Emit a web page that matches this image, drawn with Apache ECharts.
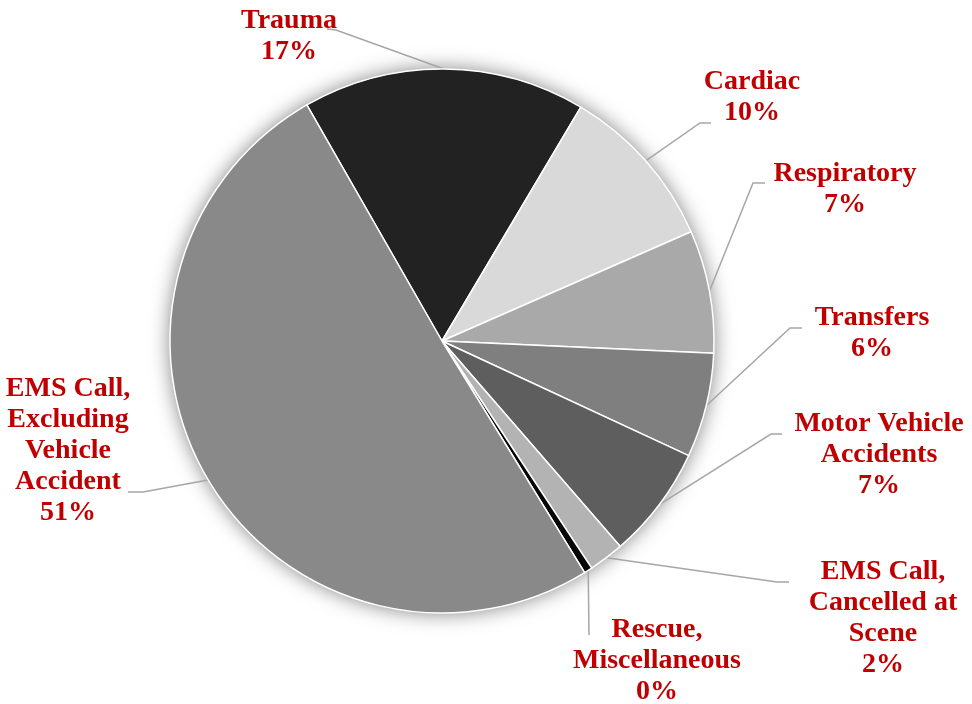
<!DOCTYPE html>
<html>
<head>
<meta charset="utf-8">
<script src="https://cdn.jsdelivr.net/npm/echarts@6/dist/echarts.min.js"></script>
<style>
html,body{margin:0;padding:0;background:#fff;}
#chart{width:972px;height:704px;}
</style>
</head>
<body>
<div id="chart"></div>
<script>
// Data
const categories = ['Trauma', 'Cardiac', 'Respiratory', 'Transfers', 'Motor Vehicle\nAccidents', 'EMS Call,\nCancelled at\nScene', 'Rescue,\nMiscellaneous', 'EMS Call,\nExcluding\nVehicle\nAccident'];
const values = [16.8, 9.9, 7.3, 6.2, 6.7, 2.1, 0.49, 50.51];
const sliceColors = ['#222222', '#d9d9d9', '#a9a9a9', '#7f7f7f', '#5e5e5e', '#b3b3b3', '#050505', '#898989'];

// Label layout (positions of label centers and leader-line bends)
const labelPos = [[289, 36], [752, 97], [845, 189], [872, 333], [879, 455], [883, 618], [657, 661], [68, 451]];
const leaderPts = [
  [[336, 30], [327, 29]],
  [[700, 123], [711, 123]],
  [[753, 183], [765, 183]],
  [[790, 328], [802, 328]],
  [[771, 434], [782, 434]],
  [[777, 582], [789, 582]],
  [[589, 635]],
  [[143, 492], [128, 492]]
];

const chart = echarts.init(document.getElementById('chart'), null, {renderer: 'canvas'});
const center = [442, 341];
const radius = 272;

chart.setOption({
  animation: false,
  backgroundColor: '#ffffff',
  series: [
    {
      type: 'pie',
      silent: true,
      center: center,
      radius: radius,
      label: {show: false},
      labelLine: {show: false},
      itemStyle: {color: '#ffffff', shadowBlur: 20, shadowColor: 'rgba(0,0,0,0.5)'},
      data: [{value: 1, name: ''}],
      z: 1
    },
    {
      type: 'pie',
      center: center,
      radius: radius,
      startAngle: 119.8,
      clockwise: true,
      avoidLabelOverlap: false,
      z: 2,
      itemStyle: {borderColor: '#ffffff', borderWidth: 1.5},
      label: {
        show: true,
        position: 'outside',
        fontFamily: '"Liberation Serif", "Times New Roman", serif',
        fontWeight: 'bold',
        fontSize: 28,
        lineHeight: 31,
        color: '#c00000',
        align: 'center',
        formatter: function (p) { return p.name + '\n' + Math.round(p.percent) + '%'; }
      },
      labelLine: {show: true, lineStyle: {color: '#a6a6a6', width: 1.5}},
      labelLayout: function (params) {
        const i = params.dataIndex;
        const res = {x: labelPos[i][0], y: labelPos[i][1], align: 'center', verticalAlign: 'middle'};
        if (params.labelLinePoints && params.labelLinePoints.length) {
          res.labelLinePoints = [params.labelLinePoints[0]].concat(leaderPts[i]);
        }
        return res;
      },
      data: categories.map(function (c, i) {
        return {name: c, value: values[i], itemStyle: {color: sliceColors[i]}};
      })
    }
  ]
});
</script>
</body>
</html>
